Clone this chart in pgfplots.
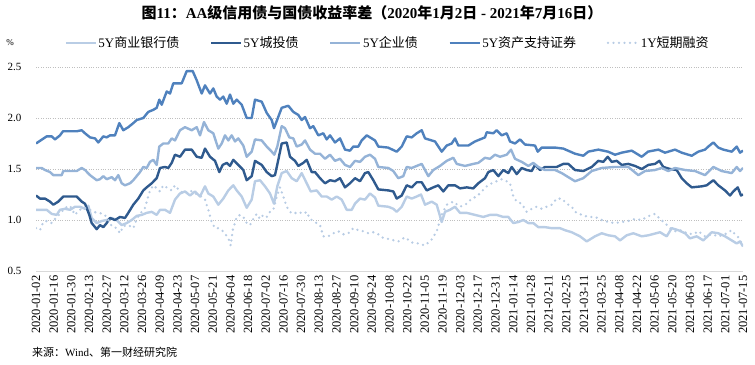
\documentclass[border=0pt]{standalone}
\usepackage{pgfplots}
\pgfplotsset{compat=1.18}
\usepackage{fontspec}
\setmainfont{Liberation Serif}
\newfontfamily\cjk{Noto Sans CJK SC}
\newcommand\C[1]{{\cjk #1}}
\definecolor{cBank}{HTML}{B9CDE5}
\definecolor{cCity}{HTML}{2F5A8E}
\definecolor{cCorp}{HTML}{95B3D7}
\definecolor{cABS}{HTML}{4F81BD}
\definecolor{cCP}{HTML}{B8CCE4}
\definecolor{cGrid}{HTML}{BFBFBF}
\definecolor{cAxis}{HTML}{D9D9D9}
\begin{document}
\begin{tikzpicture}[x=1bp,y=1bp]
\path[use as bounding box] (0,0) rectangle (755,364);
\node[anchor=center,font=\fontsize{15bp}{17bp}\selectfont\bfseries] at (372,351)
  {\C{图}11\C{：}AA\C{级信用债与国债收益率差（}2020\C{年}1\C{月}2\C{日} - 2021\C{年}7\C{月}16\C{日）}};
\node[anchor=center,font=\fontsize{9bp}{10bp}\selectfont] at (10,321) {\%};
\node[anchor=west,font=\fontsize{11bp}{12bp}\selectfont,inner sep=0pt] at (32,12) {\C{来源：}Wind\C{、第一财经研究院}};
\begin{axis}[
  at={(36bp,93bp)}, anchor=south west,
  scale only axis, width=707bp, height=204bp,
  xmin=36, xmax=743, ymin=0.5, ymax=2.5,
  axis x line*=bottom, axis y line*=left,
  x axis line style={draw=cAxis, line width=0.8bp, -},
  y axis line style={draw=none},
  major tick length=0pt,
  ytick={0.5,1.0,1.5,2.0,2.5},
  yticklabel style={/pgf/number format/fixed, /pgf/number format/precision=1, /pgf/number format/fixed zerofill, font=\fontsize{11bp}{12bp}\selectfont, xshift=-11bp},
  /pgf/number format/assume math mode=true,
  ymajorgrids, grid style={draw=cGrid, dotted, line width=0.6bp},
  xtick={36,53.675,...,744},
  xticklabels={2020-01-02,2020-01-16,2020-01-30,2020-02-13,2020-02-27,2020-03-12,2020-03-26,2020-04-09,2020-04-23,2020-05-07,2020-05-21,2020-06-04,2020-06-18,2020-07-02,2020-07-16,2020-07-30,2020-08-13,2020-08-27,2020-09-10,2020-09-24,2020-10-08,2020-10-22,2020-11-05,2020-11-19,2020-12-03,2020-12-17,2020-12-31,2021-01-14,2021-01-28,2021-02-11,2021-02-25,2021-03-11,2021-03-25,2021-04-08,2021-04-22,2021-05-06,2021-05-20,2021-06-03,2021-06-17,2021-07-01,2021-07-15},
  xticklabel style={rotate=90, anchor=east, font=\fontsize{12.5bp}{13bp}\selectfont, xshift=-1bp},
  legend columns=5,
  legend style={draw=none, fill=none, at={(axis description cs:0.497,1.118)}, anchor=center,
    font=\fontsize{13bp}{14bp}\selectfont, inner sep=0pt,
    /tikz/every even column/.append style={column sep=29bp},
    nodes={inner sep=1.5bp}},
  legend image code/.code={\draw[#1] (0bp,0bp) -- (30bp,0bp);},
  every axis plot/.append style={line width=2.4bp, line join=round, mark=none},
]
\addplot[cBank] coordinates {(36,1.10)(41.7,1.10)(46.7,1.10)(51.7,1.06)(56.7,1.05)(60,1.10)(65,1.11)(70,1.10)(75,1.13)(80,1.13)(85,1.11)(88.3,1.14)(91.7,1.02)(96.7,0.97)(101.7,0.99)(106.7,1.00)(111.7,1.02)(116.7,1.00)(121.7,0.95)(126.7,0.97)(131.7,1.00)(136.7,1.04)(141.7,1.05)(146.7,1.07)(151.7,1.08)(156.7,1.05)(160,1.10)(165,1.10)(170,1.07)(175,1.20)(180,1.26)(185,1.28)(190,1.24)(195,1.28)(200,1.23)(205,1.33)(208.3,1.26)(213.3,1.23)(218.3,1.15)(223.3,1.21)(228.3,1.29)(233.3,1.34)(236.7,1.29)(241.7,1.23)(246.7,1.12)(251.7,1.20)(255,1.38)(260,1.39)(265,1.33)(270,1.26)(274,1.16)(277.3,1.33)(281.7,1.46)(286.7,1.48)(291.7,1.41)(296.7,1.38)(301.7,1.46)(306.7,1.36)(310.7,1.28)(316.7,1.29)(321.7,1.23)(326.7,1.23)(331.7,1.20)(336.7,1.23)(341.7,1.20)(346.7,1.10)(351.7,1.10)(355,1.16)(360,1.21)(365,1.20)(370,1.26)(375,1.22)(378.3,1.14)(388.3,1.13)(393.3,1.11)(396.7,1.08)(401.7,1.13)(406.7,1.23)(411.7,1.21)(416.7,1.23)(421,1.25)(425,1.15)(431.7,1.18)(436.7,1.15)(441.7,0.98)(445,1.08)(450,1.10)(455,1.13)(460,1.07)(466.7,1.07)(475,1.05)(483.3,1.03)(490,1.05)(496.7,1.05)(503.3,1.03)(508.3,1.03)(513.3,0.97)(518.3,0.98)(523.3,1.00)(528.3,0.97)(533.3,0.97)(538.3,0.93)(545,0.93)(551.7,0.92)(560,0.92)(565,0.90)(571.7,0.88)(580,0.84)(586.7,0.79)(595,0.84)(601.7,0.87)(608.3,0.85)(615,0.84)(620,0.80)(626.7,0.85)(633.3,0.87)(641.7,0.84)(648.3,0.85)(660,0.88)(666.7,0.84)(671.7,0.92)(678.3,0.90)(685,0.87)(690,0.82)(696.7,0.84)(703.3,0.80)(711.7,0.88)(718.3,0.87)(725,0.84)(731.7,0.80)(736.7,0.77)(740,0.79)(743,0.74)};
\addlegendentry{5Y\C{商业银行债}}
\addplot[cCity] coordinates {(36,1.24)(40,1.21)(45,1.21)(50,1.18)(53.3,1.15)(58.3,1.18)(63.3,1.23)(76.7,1.23)(81.7,1.18)(85,1.16)(89.3,1.05)(91.7,0.97)(96.7,0.91)(100,0.95)(103.3,0.93)(106.7,0.97)(110,1.02)(115,1.00)(120,1.03)(125,1.02)(128.3,1.07)(133.3,1.15)(138.3,1.21)(143.3,1.29)(146.7,1.32)(151.7,1.36)(156.7,1.41)(160,1.51)(165,1.52)(168.3,1.51)(171.7,1.56)(175,1.64)(180,1.62)(185,1.69)(191.7,1.69)(196.7,1.62)(201.7,1.61)(205,1.70)(210,1.62)(215,1.58)(219.3,1.47)(222.7,1.54)(226.7,1.56)(230,1.53)(233.3,1.59)(238.3,1.54)(243.3,1.49)(246.7,1.39)(251.7,1.43)(255,1.58)(261.7,1.54)(266.7,1.47)(271.7,1.43)(275,1.44)(278.3,1.59)(281.7,1.75)(286.7,1.76)(290,1.62)(295,1.58)(298.3,1.53)(303.3,1.56)(306.7,1.59)(311.7,1.47)(315,1.47)(320,1.41)(325,1.36)(330,1.39)(335,1.38)(340,1.41)(345,1.32)(350,1.36)(355,1.41)(360,1.38)(365,1.46)(368.3,1.47)(373.3,1.39)(378.3,1.30)(388.3,1.29)(393.3,1.28)(396.7,1.21)(401.7,1.24)(406.7,1.34)(411.7,1.32)(416.7,1.37)(421.7,1.37)(426.7,1.29)(433.3,1.32)(438.3,1.34)(443.3,1.28)(448.3,1.34)(455,1.34)(460,1.31)(466.7,1.32)(473.3,1.31)(478.3,1.36)(485,1.41)(488.3,1.47)(493.3,1.49)(498.3,1.43)(503.3,1.49)(508.3,1.46)(511.7,1.52)(516.7,1.45)(521.7,1.51)(526.7,1.49)(531.7,1.48)(535,1.54)(540,1.49)(545,1.52)(556.7,1.52)(563.3,1.55)(568.3,1.55)(575,1.49)(583.3,1.48)(591.7,1.52)(598.3,1.58)(603.3,1.57)(607.7,1.62)(611.7,1.57)(616.7,1.58)(621.7,1.54)(628.3,1.55)(635,1.53)(641.7,1.50)(648.3,1.54)(655,1.55)(659.3,1.58)(663.3,1.52)(670,1.50)(676.7,1.49)(681.7,1.41)(686.7,1.36)(691.7,1.32)(701.7,1.33)(706.7,1.34)(713.3,1.39)(718.3,1.34)(725,1.29)(730,1.24)(733.3,1.28)(737.7,1.32)(741,1.24)(743,1.25)};
\addlegendentry{5Y\C{城投债}}
\addplot[cCorp] coordinates {(36,1.51)(41.7,1.51)(45,1.49)(50,1.47)(53.3,1.44)(61.7,1.44)(63.3,1.48)(76.7,1.48)(81.7,1.51)(85,1.49)(90,1.44)(96.7,1.39)(100,1.40)(103.3,1.43)(106.7,1.40)(111.7,1.42)(115,1.39)(118.3,1.44)(121.7,1.36)(125,1.34)(130,1.36)(133.3,1.39)(140,1.47)(143.3,1.52)(146.7,1.51)(150,1.57)(153.3,1.59)(156.7,1.54)(159.3,1.72)(163.3,1.75)(168.3,1.75)(171.7,1.80)(175,1.78)(180,1.88)(185,1.91)(191.7,1.88)(196.7,1.91)(200,1.83)(204,1.96)(208.3,1.88)(213.3,1.85)(218.3,1.70)(221.7,1.75)(225,1.83)(228.3,1.78)(231.7,1.83)(235,1.77)(238.3,1.80)(243.3,1.73)(246.7,1.62)(251.7,1.67)(255,1.79)(261.7,1.78)(266.7,1.72)(271.7,1.67)(274.3,1.64)(277.3,1.72)(281.7,1.92)(285,1.90)(289.3,1.81)(293.3,1.80)(296.7,1.72)(301.7,1.74)(305,1.78)(310,1.69)(315,1.65)(320,1.65)(325,1.60)(330,1.64)(335,1.58)(340,1.60)(345,1.54)(350,1.52)(355,1.58)(360,1.57)(365,1.62)(370,1.64)(375,1.60)(378.3,1.52)(388.3,1.51)(393.3,1.48)(398.3,1.41)(403.3,1.43)(406.7,1.52)(411.7,1.51)(416.7,1.53)(421.7,1.55)(428.3,1.43)(433.3,1.49)(440,1.53)(446.7,1.58)(453.3,1.61)(456.7,1.55)(465,1.53)(473.3,1.55)(478.3,1.56)(485,1.61)(490,1.60)(495,1.64)(500,1.62)(506.7,1.64)(511,1.69)(515,1.60)(521.7,1.57)(528.3,1.53)(533.3,1.56)(538.3,1.52)(545,1.49)(555,1.49)(561.7,1.46)(568.3,1.42)(575,1.38)(583.3,1.41)(591.7,1.48)(601.7,1.51)(615,1.52)(628.3,1.52)(638.3,1.44)(645,1.48)(655,1.49)(661.7,1.51)(668.3,1.48)(675,1.51)(685,1.49)(695,1.48)(705,1.44)(713.3,1.52)(721.7,1.48)(731.7,1.46)(736.7,1.52)(740,1.48)(743,1.51)};
\addlegendentry{5Y\C{企业债}}
\addplot[cABS] coordinates {(36,1.75)(46.7,1.82)(51.7,1.82)(55,1.79)(60,1.83)(63,1.87)(76.7,1.87)(81.7,1.88)(85,1.85)(90,1.81)(95,1.80)(98.3,1.76)(103.3,1.82)(106.7,1.81)(110,1.83)(115,1.83)(119.3,1.95)(123.3,1.88)(128.3,1.91)(133.3,1.95)(136.7,1.98)(143.3,2.00)(148.3,2.06)(153.3,2.08)(156.7,2.10)(159.3,2.18)(161.7,2.13)(166.7,2.26)(170,2.24)(173.3,2.34)(181.7,2.34)(186.7,2.46)(192.7,2.46)(196.7,2.37)(201.7,2.24)(205,2.32)(210,2.24)(213.3,2.29)(216.7,2.21)(220,2.18)(223.3,2.21)(226.7,2.14)(230,2.23)(233.3,2.14)(236.7,2.18)(241.7,2.13)(246.7,2.00)(251.7,2.00)(255,2.18)(261.7,2.16)(266.7,2.05)(271.7,1.98)(274,1.90)(276.7,1.97)(281.7,2.10)(288.3,2.12)(293.3,2.06)(298.3,2.03)(301.7,1.98)(305,2.01)(310,1.90)(313.3,1.92)(318.3,1.83)(323.3,1.85)(326.7,1.79)(330,1.83)(335,1.76)(340,1.80)(345,1.69)(350,1.68)(353.3,1.72)(358.3,1.72)(361.7,1.78)(366.7,1.83)(370,1.81)(375,1.78)(378.3,1.72)(388,1.71)(396.7,1.67)(401.7,1.72)(406.7,1.82)(411.7,1.81)(416.7,1.85)(421.7,1.88)(425,1.80)(435,1.77)(441.7,1.67)(446.7,1.73)(451.7,1.75)(455,1.80)(458.3,1.73)(468.3,1.73)(475,1.77)(485,1.81)(486.7,1.86)(493.3,1.85)(496.7,1.88)(501.7,1.83)(506.7,1.85)(510,1.77)(515,1.75)(520,1.79)(525,1.74)(535,1.73)(537.7,1.67)(541.7,1.71)(555,1.71)(563.3,1.70)(575,1.65)(583.3,1.63)(588.3,1.67)(598.3,1.69)(608,1.67)(615,1.64)(621.7,1.66)(631.7,1.68)(641.7,1.62)(648,1.67)(658.3,1.69)(665,1.66)(675,1.69)(681.7,1.66)(691.7,1.63)(698.3,1.67)(705,1.69)(708.3,1.72)(713.3,1.76)(718.3,1.71)(723.3,1.69)(731.7,1.67)(736.7,1.72)(740,1.66)(743,1.68)};
\addlegendentry{5Y\C{资产支持证券}}
\addplot[cCP, line width=2.6bp, line cap=round, dash pattern=on 0bp off 5.5bp] coordinates {(36,0.92)(40,0.90)(43.3,0.98)(46.7,0.99)(51.7,0.97)(55,1.01)(60,1.06)(65,1.12)(70,1.14)(75,1.05)(78.3,1.09)(83.3,1.12)(88.3,1.11)(93.3,1.08)(98.3,1.07)(103.3,1.06)(106.7,1.03)(111.7,0.94)(116.7,0.92)(120,0.87)(123.3,0.94)(128.3,0.95)(133.3,0.92)(136.7,1.01)(140,1.06)(145,1.12)(150,1.29)(153.3,1.34)(156.7,1.31)(160,1.28)(163.3,1.34)(168.3,1.31)(171.7,1.29)(175,1.34)(180,1.28)(185,1.26)(190,1.29)(195,1.26)(200,1.24)(205,1.20)(208.3,1.10)(211.7,0.98)(215,0.92)(218.3,0.92)(221.7,0.90)(225,0.87)(226.7,0.84)(229.3,0.80)(230.7,0.75)(232.7,0.90)(236.7,1.03)(240,1.05)(243.3,1.03)(246.7,0.97)(250,0.95)(253.3,1.01)(256.7,1.06)(260,1.01)(263.3,1.05)(266.7,1.03)(270,1.08)(273.3,1.10)(276.7,1.23)(280,1.32)(283.3,1.23)(286.7,1.13)(290,1.08)(293.3,1.06)(298.3,1.08)(303.3,1.06)(306.7,1.08)(310,1.01)(315,0.98)(320,0.95)(323.3,0.84)(328.3,0.84)(333.3,0.87)(338.3,0.89)(343.3,0.86)(348.3,0.87)(353.3,0.92)(358.3,0.90)(363.3,0.89)(368.3,0.87)(373.3,0.88)(378.3,0.86)(381.7,0.83)(390,0.81)(398.3,0.79)(405,0.83)(411.7,0.78)(418.3,0.77)(425,0.75)(431.7,0.81)(436.7,0.89)(441.7,1.05)(446.7,1.15)(453.3,1.18)(460,1.13)(466.7,1.16)(471.7,1.21)(476.7,1.23)(481.7,1.28)(486.7,1.33)(491.7,1.36)(496.7,1.38)(501.7,1.40)(506.7,1.38)(510,1.36)(513.3,1.23)(516.7,1.18)(521.7,1.16)(526.7,1.08)(531.7,1.11)(536.7,1.13)(541.7,1.11)(546.7,1.13)(551.7,1.15)(556.7,1.21)(561.7,1.21)(566.7,1.16)(571.7,1.13)(575,1.08)(581.7,1.05)(588.3,1.03)(595,1.03)(601.7,1.00)(608.3,0.98)(615,0.97)(621.7,0.98)(628.3,0.99)(635,1.01)(641.7,1.00)(646.7,1.03)(651.7,1.05)(655,1.06)(660,1.01)(665,0.97)(670,0.92)(675,0.89)(681.7,0.90)(686.7,0.87)(693.3,0.86)(698.3,0.89)(705,0.84)(711.7,0.86)(718.3,0.84)(725,0.86)(731.7,0.90)(735,0.86)(738.3,0.83)(743,0.75)};
\addlegendentry{1Y\C{短期融资}}
\end{axis}
\end{tikzpicture}
\end{document}
